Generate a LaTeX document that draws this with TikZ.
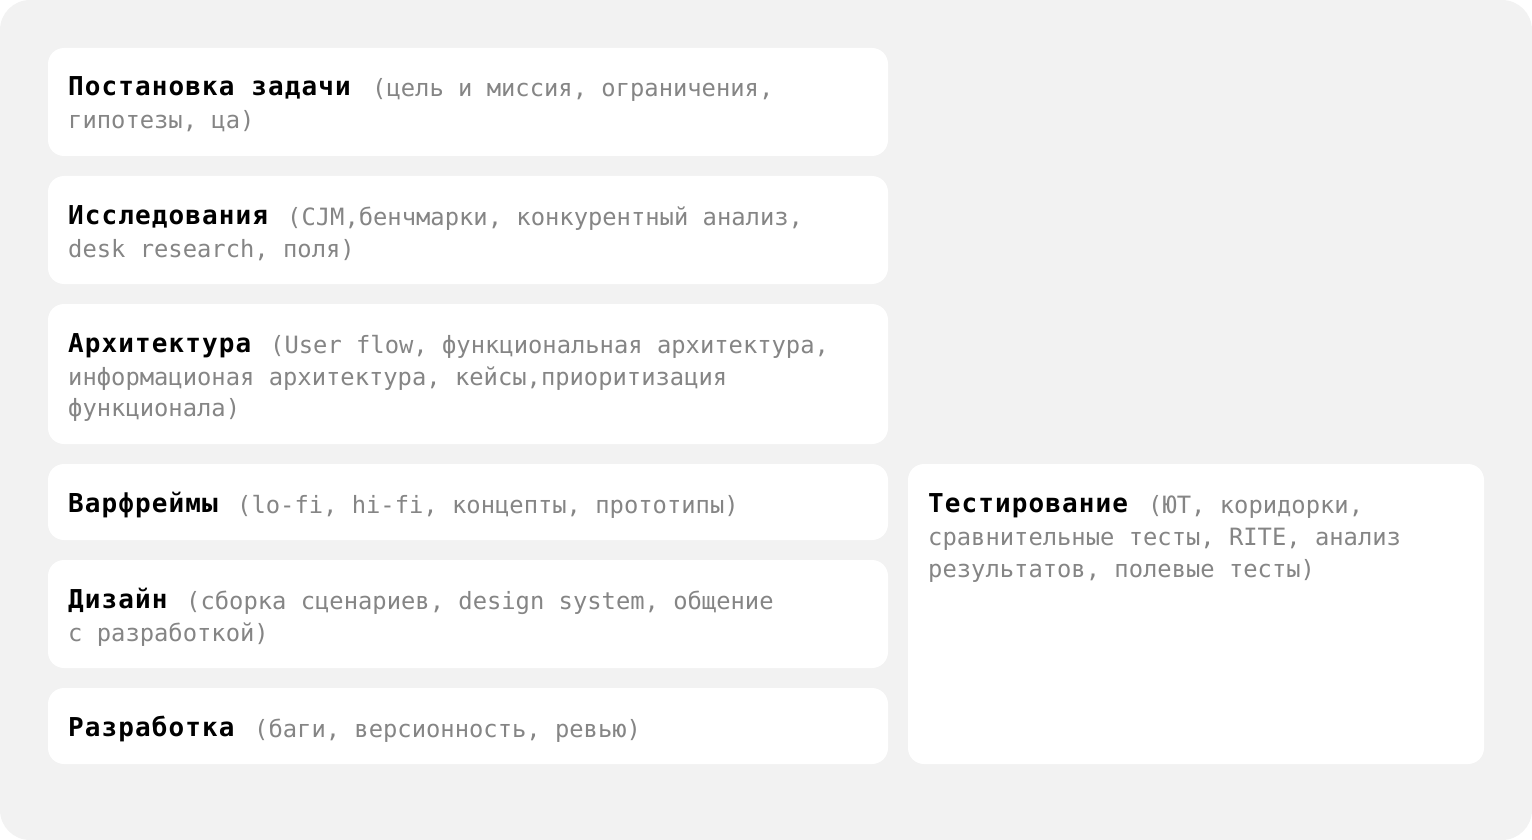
\documentclass[tikz,border=0pt]{standalone}
\usepackage{fontspec}
\newfontfamily\hfont[LetterSpace=4.2]{DejaVu Sans Mono Bold}
\newfontfamily\mfont{DejaVu Sans Mono}
\definecolor{bg}{HTML}{F2F2F2}
\definecolor{txtgray}{HTML}{858585}
\tikzset{
  cardbox/.style={fill=white, rounded corners=16pt, draw=none},
  head/.style={anchor=base west, inner sep=0pt, font=\hfont\fontsize{26}{30}\selectfont, text=black},
  desc/.style={anchor=base west, inner sep=0pt, font=\mfont\fontsize{23.8}{30}\selectfont, text=txtgray},
}
\begin{document}
\begin{tikzpicture}[x=1pt,y=-1pt]
\useasboundingbox (0,0) rectangle (1532,840);
\fill[bg, rounded corners=30pt] (0,0) rectangle (1532,840);
% cards
\path[cardbox] (48,48) rectangle (888,156);
\path[cardbox] (48,176) rectangle (888,284);
\path[cardbox] (48,304) rectangle (888,444);
\path[cardbox] (48,464) rectangle (888,540);
\path[cardbox] (48,560) rectangle (888,668);
\path[cardbox] (48,688) rectangle (888,764);
\path[cardbox] (908,464) rectangle (1484,764);
% texts
\node[head] (h1) at (68,96) {Постановка задачи};
\node[desc] (d1a) at (372,97) {(цель и миссия, ограничения,};
\node[desc] (d1b) at (68,129) {гипотезы, ца)};
\node[head] (h2) at (68,224) {Исследования};
\node[desc] (d2a) at (287,225) {(CJM,бенчмарки, конкурентный анализ,};
\node[desc] (d2b) at (68,257) {desk research, поля)};
\node[head] (h3) at (68,352) {Архитектура};
\node[desc] (d3a) at (270,353) {(User flow, функциональная архитектура,};
\node[desc] (d3b) at (68,385) {информационая архитектура, кейсы,приоритизация};
\node[desc] (d3c) at (68,416) {функционала)};
\node[head] (h4) at (68,512) {Варфреймы};
\node[desc] (d4a) at (237,513) {(lo-fi, hi-fi, концепты, прототипы)};
\node[head] (h5) at (68,608) {Дизайн};
\node[desc] (d5a) at (186,609) {(сборка сценариев, design system, общение};
\node[desc] (d5b) at (68,641) {с разработкой)};
\node[head] (h6) at (68,736) {Разработка};
\node[desc] (d6a) at (254,737) {(баги, версионность, ревью)};
\node[head] (h7) at (928,512) {Тестирование};
\node[desc] (d7a) at (1148,513) {(ЮТ, коридорки,};
\node[desc] (d7b) at (928,545) {сравнительные тесты, RITE, анализ};
\node[desc] (d7c) at (928,577) {результатов, полевые тесты)};
\end{tikzpicture}
\end{document}
